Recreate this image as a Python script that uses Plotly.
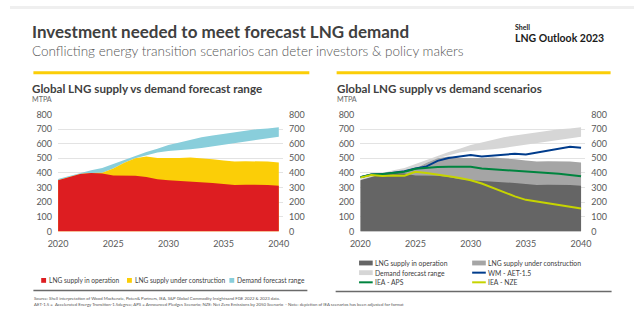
import plotly.graph_objects as go

years = list(range(2020, 2041))

supply_operation = [350, 370, 392, 399, 397, 383, 381, 381, 372, 357, 350, 346, 344, 339, 331, 324, 317, 320, 320, 317, 313]
supply_total = [350, 370, 392, 399, 401, 430, 469, 500, 513, 502, 500, 502, 505, 502, 494, 485, 478, 480, 480, 478, 472]
demand_low = [350, 370, 392, 399, 401, 430, 469, 500, 520, 540, 551, 555, 562, 571, 582, 593, 604, 615, 626, 637, 648]
demand_high = [359, 379, 403, 419, 434, 461, 489, 518, 544, 566, 591, 608, 628, 644, 657, 668, 681, 690, 699, 705, 712]

wm_aet15 = [370, 390, 392, 401, 412, 430, 445, 483, 502, 513, 522, 513, 520, 525, 531, 526, 540, 553, 569, 580, 573]
iea_aps = [370, 390, 392, 401, 408, 428, 436, 441, 443, 445, 443, 430, 425, 421, 417, 412, 408, 401, 394, 386, 377]
iea_nze = [368, 386, 379, 383, 381, 408, 399, 390, 377, 366, 350, 328, 298, 267, 240, 216, 203, 190, 179, 167, 156]

y_ticks = [0, 100, 200, 300, 400, 500, 600, 700, 800]
x_ticks = [2020, 2025, 2030, 2035, 2040]

W, H = 640, 325
FONT = "Lato"
TXT = "#404040"
GRID = "#e3e3e3"
TICK = "#595959"

RED, YEL, CYAN = "#DD1D21", "#FBCE07", "#89CEDB"
G_DARK, G_MID, G_LIGHT = "#656565", "#A5A5A5", "#D6D6D6"
BLUE, GREEN, LIME = "#003C8C", "#00843F", "#C6D400"


def px(x):
    return x / W


def py(y):
    return 1 - y / H


fig = go.Figure()


def add_areas(xa, ya, c_op, c_con, c_dem):
    fig.add_trace(go.Scatter(x=years, y=demand_low, mode="lines", line=dict(width=0),
                             hoverinfo="skip", showlegend=False, xaxis=xa, yaxis=ya))
    fig.add_trace(go.Scatter(x=years, y=demand_high, mode="lines", line=dict(width=0),
                             fill="tonexty", fillcolor=c_dem, name="Demand forecast range",
                             showlegend=False, xaxis=xa, yaxis=ya))
    fig.add_trace(go.Scatter(x=years, y=supply_total, mode="lines", line=dict(width=0),
                             fill="tozeroy", fillcolor=c_con, name="LNG supply under construction",
                             showlegend=False, xaxis=xa, yaxis=ya))
    fig.add_trace(go.Scatter(x=years, y=supply_operation, mode="lines", line=dict(width=0),
                             fill="tozeroy", fillcolor=c_op, name="LNG supply in operation",
                             showlegend=False, xaxis=xa, yaxis=ya))


add_areas("x", "y", RED, YEL, CYAN)
add_areas("x2", "y2", G_DARK, G_MID, G_LIGHT)

for vals, col, nm in [(wm_aet15, BLUE, "WM - AET-1.5"), (iea_aps, GREEN, "IEA - APS"), (iea_nze, LIME, "IEA - NZE")]:
    fig.add_trace(go.Scatter(x=years, y=vals, mode="lines", line=dict(color=col, width=2),
                             name=nm, showlegend=False, xaxis="x2", yaxis="y2"))

# invisible traces on right-side axes so they render
fig.add_trace(go.Scatter(x=[years[0]], y=[supply_operation[0]], mode="markers", marker=dict(opacity=0),
                         hoverinfo="skip", showlegend=False, xaxis="x", yaxis="y3"))
fig.add_trace(go.Scatter(x=[years[0]], y=[supply_operation[0]], mode="markers", marker=dict(opacity=0),
                         hoverinfo="skip", showlegend=False, xaxis="x2", yaxis="y4"))

ydom = [py(233.3), py(112.3)]
xr = [2020, 2040.38]
tickfont = dict(family=FONT, size=9, color=TICK)

xcommon = dict(range=xr, tickvals=x_ticks, showgrid=False, zeroline=False, showline=False,
               ticks="", tickfont=tickfont, fixedrange=True, ticklabelstandoff=6)
ycommon = dict(range=[0, 800], tickvals=y_ticks, showgrid=True, gridcolor=GRID, gridwidth=1,
               zeroline=False, showline=False, ticks="", tickfont=tickfont, domain=ydom,
               fixedrange=True, ticklabelstandoff=5)

fig.update_layout(
    width=W, height=H, margin=dict(l=0, r=0, t=0, b=0),
    paper_bgcolor="white", plot_bgcolor="white",
    font=dict(family=FONT, color=TXT),
    xaxis=dict(domain=[px(49.3), px(280)], anchor="y", **xcommon),
    xaxis2=dict(domain=[px(359.3), px(590)], anchor="y2", **xcommon),
    yaxis=dict(anchor="x", side="left", **ycommon),
    yaxis2=dict(anchor="x2", side="left", **ycommon),
    yaxis3=dict(anchor="x", side="right", overlaying="y", **{**ycommon, "showgrid": False}),
    yaxis4=dict(anchor="x2", side="right", overlaying="y2", **{**ycommon, "showgrid": False}),
    showlegend=False,
)

ann = []
shapes = []


def text(x, y, s, size, color=TXT, bold=False, weight=None):
    f = dict(family=FONT, size=size, color=color)
    if bold:
        f["weight"] = "bold"
    elif weight:
        f["weight"] = weight
    ann.append(dict(x=px(x), y=py(y), xref="paper", yref="paper", text=s, showarrow=False,
                    xanchor="left", yanchor="middle", font=f, align="left"))


def rect(x0, y0, x1, y1, color):
    shapes.append(dict(type="rect", xref="paper", yref="paper", x0=px(x0), x1=px(x1),
                       y0=py(y1), y1=py(y0), fillcolor=color, line=dict(width=0), layer="above"))


def hline(x0, x1, y, color, width):
    shapes.append(dict(type="line", xref="paper", yref="paper", x0=px(x0), x1=px(x1),
                       y0=py(y), y1=py(y), line=dict(color=color, width=width)))


# header
rect(0, 0, 640, 3, "#EFEFEF")
text(21, 26.5, "Investment needed to meet forecast LNG demand", 17, TXT, bold=True)
text(21, 47, "Conflicting energy transition scenarios can deter investors &amp; policy makers", 13.5, "#555555", weight=300)
text(516, 22, "Shell", 7, "#1a1a1a", bold=True)
text(516, 33, "LNG Outlook 2023", 10.5, "#1a1a1a", bold=True)

hline(24, 307, 69, YEL, 3)
hline(335, 616, 69, YEL, 3)

# chart titles
text(21, 85, "Global LNG supply vs demand forecast range", 11.6, TXT, bold=True)
text(21, 96.5, "MTPA", 7.2, "#666666")
text(333, 85, "Global LNG supply vs demand scenarios", 11.6, TXT, bold=True)
text(333, 96.5, "MTPA", 7.2, "#666666")

# left legend
for x0, col, lab in [(32, RED, "LNG supply in operation"), (120, YEL, "LNG supply under construction"),
                     (225, CYAN, "Demand forecast range")]:
    rect(x0, 281.5, x0 + 5, 286.5, col)
    text(x0 + 6, 284, lab, 6.6, "#404040")

hline(24, 305, 294.5, "#6a6a6a", 1.5)

# right legend
items = [
    (358, 266, "area", G_DARK, "LNG supply in operation"),
    (474, 266, "area", G_MID, "LNG supply under construction"),
    (358, 276, "area", G_LIGHT, "Demand forecast range"),
    (474, 276, "line", BLUE, "WM - AET-1.5"),
    (358, 286, "line", GREEN, "IEA - APS"),
    (474, 286, "line", LIME, "IEA - NZE"),
]
for x0, y0, kind, col, lab in items:
    if kind == "area":
        rect(x0, y0 - 2.5, x0 + 14, y0 + 2.5, col)
    else:
        hline(x0, x0 + 14, y0, col, 2)
    text(x0 + 14, y0, lab, 6.8, "#404040")

hline(334, 617, 295.5, "#6a6a6a", 1.5)

# source notes
text(23, 303, "Source: Shell interpretation of Wood Mackenzie, Poten&amp; Partners, IEA, S&amp;P Global Commodity Insightsand FGE 2022 &amp; 2023 data.", 4.3, "#555555")
text(23, 309, "AET-1.5 =  Accelerated Energy Transition-1.5degree; APS = Announced Pledges Scenario; NZE: Net Zero Emissions by 2050 Scenario  - Note: depiction of IEA scenarios has been adjusted for format", 4.3, "#555555")

fig.update_layout(annotations=ann, shapes=shapes)

fig.write_html("out.html")
